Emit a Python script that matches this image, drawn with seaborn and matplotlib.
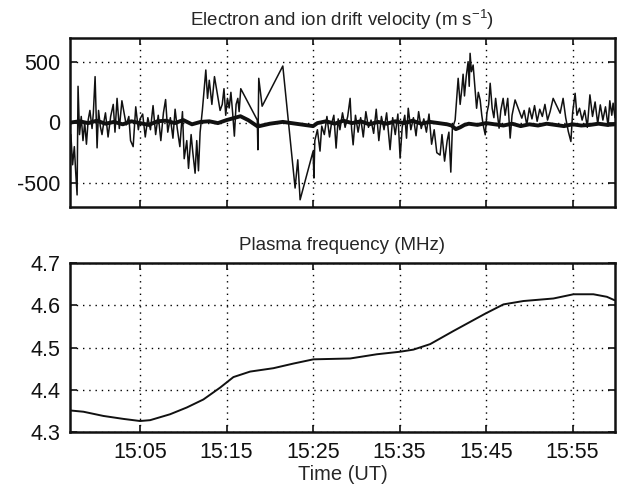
import numpy as np
import pandas as pd
import seaborn as sns
import matplotlib.pyplot as plt

# time in minutes after 15:00 UT
e_time = [-3.0, -2.8, -2.6, -2.45, -2.28, -2.17, -2.0, -1.8, -1.6, -1.4, -1.2, -1.0, -0.8, -0.55,
          -0.4, -0.2, 0.03, 0.2, 0.4, 0.6, 0.8, 1.0, 1.3, 1.6, 1.9, 2.1, 2.34, 2.6, 2.9, 3.1,
          3.4, 3.7, 3.9, 4.2, 4.5, 4.8, 5.0, 5.3, 5.6, 5.9, 6.2, 6.5, 6.8, 7.1, 7.4, 7.7,
          7.95, 8.2, 8.5, 8.8, 9.05, 9.3, 9.6, 9.9, 10.1, 10.4, 10.6, 10.9, 11.1, 11.36, 11.55,
          11.75, 11.94, 12.2, 12.6, 12.8, 13.0, 13.3, 13.6, 13.9, 14.25, 14.5, 14.7, 14.9, 15.1,
          15.3, 15.5, 15.7, 15.9, 16.1, 16.3, 16.45, 16.64,
          18.55, 18.62, 18.72, 19.11, 21.5, 22.92, 23.23, 23.5, 25.0, 25.1, 25.2,
          25.5, 25.8, 26.0, 26.3, 26.6, 26.9, 27.1, 27.4, 27.66, 27.9, 28.1, 28.4, 28.7, 29.0,
          29.28, 29.45, 29.63, 29.9, 30.2, 30.5, 30.8, 31.1, 31.4, 31.7, 32.0, 32.3, 32.6, 32.9,
          33.2, 33.5, 33.9, 34.2, 34.5, 34.8, 35.06, 35.3, 35.6, 35.8, 36.0, 36.3, 36.6, 36.9,
          37.2, 37.5, 37.8, 38.1, 38.4, 38.7, 39.0, 39.3, 39.68, 39.9, 40.2, 40.5, 40.7, 40.92,
          41.1, 41.42, 41.6, 41.77, 42.0, 42.2, 42.34, 42.5, 42.7, 42.92, 43.05, 43.15, 43.3,
          43.5, 43.7, 43.9, 44.1, 44.31, 44.5, 44.66, 44.9, 45.1, 45.3, 45.47, 45.7, 45.9, 46.1,
          46.3, 46.5, 46.7, 46.97, 47.2, 47.5, 47.78, 48.0, 48.35, 49.13, 49.4, 49.7, 50.0,
          50.3, 50.6, 50.9, 51.2, 51.5, 51.8, 52.1, 52.4, 52.75, 53.56, 53.9, 54.2, 54.5, 54.8,
          55.0, 55.29, 55.5, 55.8, 56.1, 56.4, 56.7, 57.0, 57.3, 57.6, 57.9, 58.2, 58.5, 58.8,
          59.1, 59.3, 59.53, 59.68, 59.9]
e_vel = [-100, -350, -200, -400, -600, 300, -100, 50, -150, 0, -180, 20, 100, -50,
         80, 380, -210, 100, -30, -100, 0, 80, -120, 50, 150, -80, 200, -50, 180, 100,
         -20, 50, -150, -200, 130, -60, 30, 70, -120, 40, -60, 140, -100, 60, -150, 80,
         190, -80, 40, -130, 110, -50, -200, 90, -300, -150, -380, -100, -250, -420, -150,
         -400, -80, 100, 435, 200, 350, 150, 380, 250, 100, 150, 280, 60, 200,
         120, 250, 80, -113, 150, 200, 90, 280,
         20, -226, 366, 135, 468, -543, -309, -640, -238, -460, -150,
         -60, -237, -30, -100, 50, -120, -20, 60, -212, 30, -60, 80, -40, 50,
         200, -50, -185, 60, -80, 40, -120, 90, -40, 20, -90, 110, -150, 50,
         -60, 80, -225, 40, -100, 70, -295, -40, 60, -130, 118, -60, 40, -110,
         90, -50, 30, -80, 70, -180, -60, -250, -270, -100, -320, -150, -80, -411,
         -50, 20, 200, 366, 150, 283, 400, 220, 380, 504, 300, 573, 421,
         476, 300, 118, 250, 187, 60, -20, -102, 80, 150, 325, 118, 40, 200,
         80, -47, 100, 200, 60, 200, -129, 60, 187, 36, 100, -20, 120,
         30, 140, 10, 110, 50, 150, 20, 90, 200, 77, 200, 40, -74, -157,
         80, 242, 60, 118, 20, 100, -40, 229, 50, 170, -10, 146, 20, 130,
         -30, 180, 60, 160, 40]

i_time = [-3.0, -2.0, -1.0, 0.0, 1.0, 2.0, 3.0, 4.0, 5.0, 6.0, 7.0, 8.0, 9.0, 10.0, 11.0,
          12.0, 13.0, 14.0, 15.0, 16.0, 16.6, 17.5, 18.6, 20.0, 21.5, 23.0, 25.0, 25.5, 26.5,
          27.5, 28.5, 29.5, 30.5, 31.5, 32.5, 33.5, 34.5, 35.5, 36.5, 37.5, 38.5, 39.5, 40.5,
          41.0, 41.5, 42.0, 42.5, 43.0, 44.0, 45.0, 46.0, 47.0, 48.0, 49.0, 50.0, 51.0, 52.0,
          53.0, 54.0, 55.0, 56.0, 57.0, 58.0, 59.0, 59.9]
i_vel = [0, 10, -5, 15, -10, 5, -15, 10, -5, -20, 10, 15, -5, 20, -15,
         5, 10, -5, 20, 40, 52, 20, -33, -10, 5, -10, -30, -5, 10,
         -10, 15, -5, 10, -15, 5, -10, 10, -5, 15, -10, 5, -5, -15,
         -25, -55, -40, -20, -10, -20, -5, -15, -25, -10, -30, -15, -25, -10,
         -20, -30, -15, -25, -20, -10, -20, -15]

f_time = [-3.09, -1.55, 0.76, 3.07, 5.0, 6.16, 8.47, 10.4, 12.32, 14.25, 15.79, 17.72, 20.41,
          22.73, 25.04, 29.28, 32.37, 35.06, 36.6, 38.53, 41.22, 44.89, 47.0, 49.31, 52.78,
          55.1, 57.4, 58.96, 59.84]
f_mhz = [4.351, 4.348, 4.338, 4.331, 4.326, 4.328, 4.342, 4.358, 4.377, 4.405, 4.430, 4.443,
         4.451, 4.462, 4.472, 4.474, 4.484, 4.490, 4.495, 4.508, 4.539, 4.580, 4.602, 4.610,
         4.616, 4.626, 4.626, 4.620, 4.612]

tick_min = [5, 15, 25, 35, 45, 55]
tick_lab = ["15:05", "15:15", "15:25", "15:35", "15:45", "15:55"]

sns.set_theme(style="ticks")
plt.rcParams['font.family'] = ['Liberation Sans', 'DejaVu Sans']
plt.rcParams['mathtext.default'] = 'regular'
plt.rcParams['axes.unicode_minus'] = False
plt.rcParams['font.size'] = 14

fig = plt.figure(figsize=(6.27, 4.93), dpi=100)
ax1 = fig.add_axes([70 / 627, 1 - 207 / 493, 545 / 627, 169 / 493])
ax2 = fig.add_axes([70 / 627, 1 - 432 / 493, 545 / 627, 169 / 493])

df_e = pd.DataFrame({"t": e_time, "v": e_vel})
df_i = pd.DataFrame({"t": i_time, "v": i_vel})
df_f = pd.DataFrame({"t": f_time, "f": f_mhz})

sns.lineplot(data=df_e, x="t", y="v", ax=ax1, color="#111111", lw=1.1, estimator=None, sort=False)
sns.lineplot(data=df_i, x="t", y="v", ax=ax1, color="#111111", lw=2.8, estimator=None, sort=False)
sns.lineplot(data=df_f, x="t", y="f", ax=ax2, color="#111111", lw=1.4, estimator=None, sort=False)

ax1.set_ylim(-700, 700)
ax1.set_yticks([-500, 0, 500])
ax1.set_xticklabels([])
ax2.set_ylim(4.3, 4.7)
ax2.set_yticks([4.3, 4.4, 4.5, 4.6, 4.7])

for ax in (ax1, ax2):
    ax.set_xlim(-3.1, 59.9)
    ax.set_xticks(tick_min)
    ax.grid(True, color="black", linestyle=(0, (1, 3.5)), linewidth=1.0)
    ax.tick_params(direction="in", length=5, width=1.2, top=True, right=True,
                   labelsize=15.5, pad=7, colors="#111111")
    for s in ax.spines.values():
        s.set_linewidth(1.8)
        s.set_color("#111111")
    ax.set_xlabel("")
    ax.set_ylabel("")

ax2.set_xticklabels(tick_lab)
ax2.set_xlabel("Time (UT)", fontsize=14.5, labelpad=2)
ax1.set_title("Electron and ion drift velocity (m s$^{-1}$)", fontsize=13.5, pad=9)
ax2.set_title("Plasma frequency (MHz)", fontsize=13.5, pad=9)

fig.savefig("out.png", dpi=100)
